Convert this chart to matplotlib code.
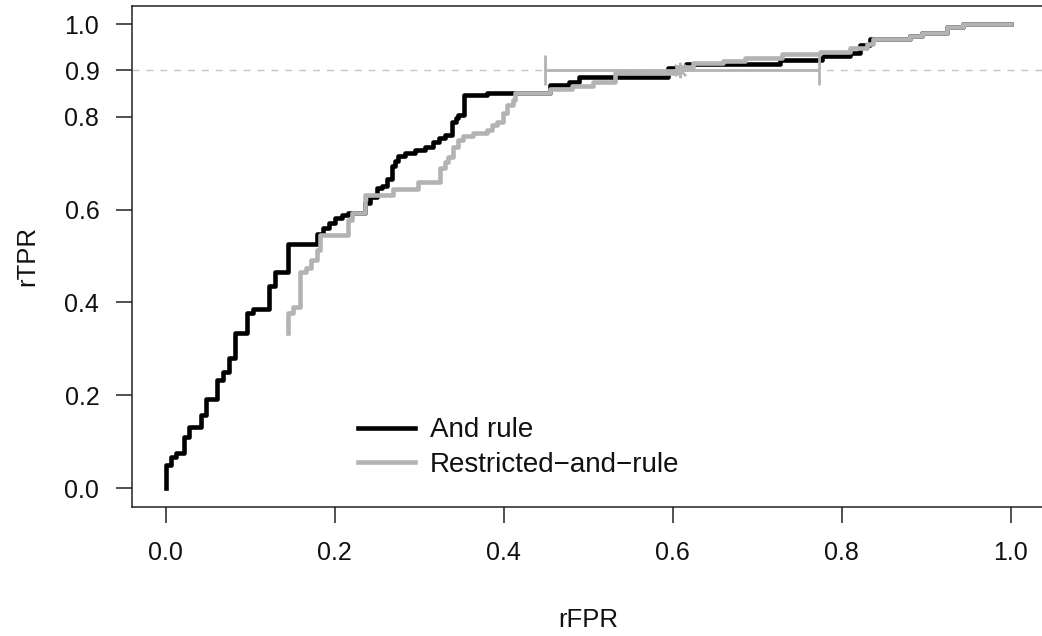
import numpy as np
import matplotlib
matplotlib.use("Agg")
import matplotlib.pyplot as plt

plt.rcParams['font.family'] = ['Liberation Sans', 'DejaVu Sans']

# ROC step points (top of each riser)
and_fpr = [0.0, 0.0, 0.0066, 0.0125, 0.0211, 0.0272, 0.0414, 0.0477, 0.0607, 0.0678,
           0.0749, 0.0820, 0.0959, 0.1030, 0.1228, 0.1299, 0.1451, 0.1791, 0.1856,
           0.1927, 0.2004, 0.2083, 0.2157, 0.2358, 0.2418, 0.2497, 0.2556, 0.2619,
           0.2675, 0.2714, 0.2755, 0.2832, 0.2950, 0.3068, 0.3163, 0.3238, 0.3311,
           0.3385, 0.3430, 0.3459, 0.3530, 0.3808, 0.4548, 0.4773, 0.4891, 0.5944,
           0.6157, 0.7270, 0.7767, 0.8098, 0.8216, 0.8335, 0.8808, 0.8950, 0.9246,
           0.9436, 1.0]
and_tpr = [0.0, 0.0496, 0.0679, 0.0754, 0.1099, 0.1315, 0.1573, 0.1918, 0.2328, 0.2500,
           0.2802, 0.3341, 0.3772, 0.3858, 0.4353, 0.4655, 0.5259, 0.5474, 0.5603,
           0.5718, 0.5812, 0.5884, 0.5920, 0.6140, 0.6270, 0.6459, 0.6509, 0.6659,
           0.6940, 0.7047, 0.7155, 0.7226, 0.7284, 0.7349, 0.7457, 0.7537, 0.7608,
           0.7894, 0.7968, 0.8039, 0.8470, 0.8513, 0.8685, 0.8756, 0.8858, 0.9052,
           0.9138, 0.9224, 0.9317, 0.9381, 0.9547, 0.9670, 0.9741, 0.9813, 0.9929,
           1.0, 1.0]

restr_fpr = [0.1451, 0.1451, 0.1510, 0.1589, 0.1664, 0.1725, 0.1791, 0.1826, 0.2161,
             0.2205, 0.2353, 0.2695, 0.2989, 0.3246, 0.3305, 0.3344, 0.3404, 0.3463,
             0.3518, 0.3640, 0.3799, 0.3858, 0.3917, 0.3995, 0.4036, 0.4114, 0.4134,
             0.4548, 0.4808, 0.5057, 0.5317, 0.6051, 0.6244, 0.6599, 0.6860, 0.7298,
             0.7748, 0.8103, 0.8300, 0.8371, 0.8808, 0.8950, 0.9246, 0.9436, 1.0]
restr_tpr = [0.3334, 0.3765, 0.3901, 0.4662, 0.4735, 0.4914, 0.5129, 0.5453, 0.5776,
             0.5920, 0.6315, 0.6455, 0.6595, 0.6890, 0.7032, 0.7140, 0.7356, 0.7500,
             0.7586, 0.7657, 0.7716, 0.7823, 0.7894, 0.8075, 0.8254, 0.8362, 0.8506,
             0.8593, 0.8664, 0.8756, 0.8940, 0.9084, 0.9153, 0.9209, 0.9274, 0.9347,
             0.9403, 0.9476, 0.9569, 0.9670, 0.9741, 0.9813, 0.9929, 1.0, 1.0]

# operating point with interval
op_fpr = 0.6086
op_lo = 0.4490
op_hi = 0.7730
target_tpr = 0.9

grey = '#b3b3b3'

fig = plt.figure(figsize=(10.42, 6.36), dpi=100)
W, H = 1042.0, 636.0
ax = fig.add_axes([131.9 / W, 129.4 / H, 912.6 / W, 501.1 / H])

ax.axhline(target_tpr, color='#c4c4c4', lw=1.0, dashes=(5, 5), zorder=1)
ax.plot(and_fpr, and_tpr, drawstyle='steps-post', color='black', lw=3.3,
        label='And rule', zorder=2)
ax.plot(restr_fpr, restr_tpr, drawstyle='steps-post', color=grey, lw=3.3,
        label='Restricted\u2212and\u2212rule', zorder=3)
ax.errorbar([op_fpr], [target_tpr], xerr=[[op_fpr - op_lo], [op_hi - op_fpr]],
            fmt='none', ecolor=grey, elinewidth=2.0, capsize=10.8, capthick=2.0, zorder=4)
ax.plot([op_fpr], [target_tpr], marker=(8, 2, 0), color=grey, ms=11, mew=1.6,
        ls='none', zorder=5)

ax.set_xlim(-0.04, 1.04)
ax.set_ylim(-0.04, 1.04)
ax.set_xticks([0.0, 0.2, 0.4, 0.6, 0.8, 1.0])
ax.set_yticks([0.0, 0.2, 0.4, 0.6, 0.8, 0.9, 1.0])
ax.set_xticklabels(['0.0', '0.2', '0.4', '0.6', '0.8', '1.0'])
ax.set_yticklabels(['0.0', '0.2', '0.4', '0.6', '0.8', '0.9', '1.0'])
ax.tick_params(length=11.5, width=1.1, color='#222222', labelsize=18, labelcolor='#111111')
ax.tick_params(axis='x', pad=13)
ax.tick_params(axis='y', pad=12)
for s in ax.spines.values():
    s.set_linewidth(1.1)
    s.set_color('#222222')

ax.set_xlabel('rFPR', fontsize=18.5, labelpad=31, color='#111111')
ax.set_ylabel('rTPR', fontsize=18.5, labelpad=18, color='#111111')

leg = ax.legend(loc='upper left', bbox_to_anchor=(0.2478, 0.178), frameon=False,
                fontsize=20, handlelength=2.05, handletextpad=0.54,
                labelspacing=0.3, borderpad=0, borderaxespad=0)
for t in leg.get_texts():
    t.set_color('#111111')

fig.savefig('out.png', dpi=100)
